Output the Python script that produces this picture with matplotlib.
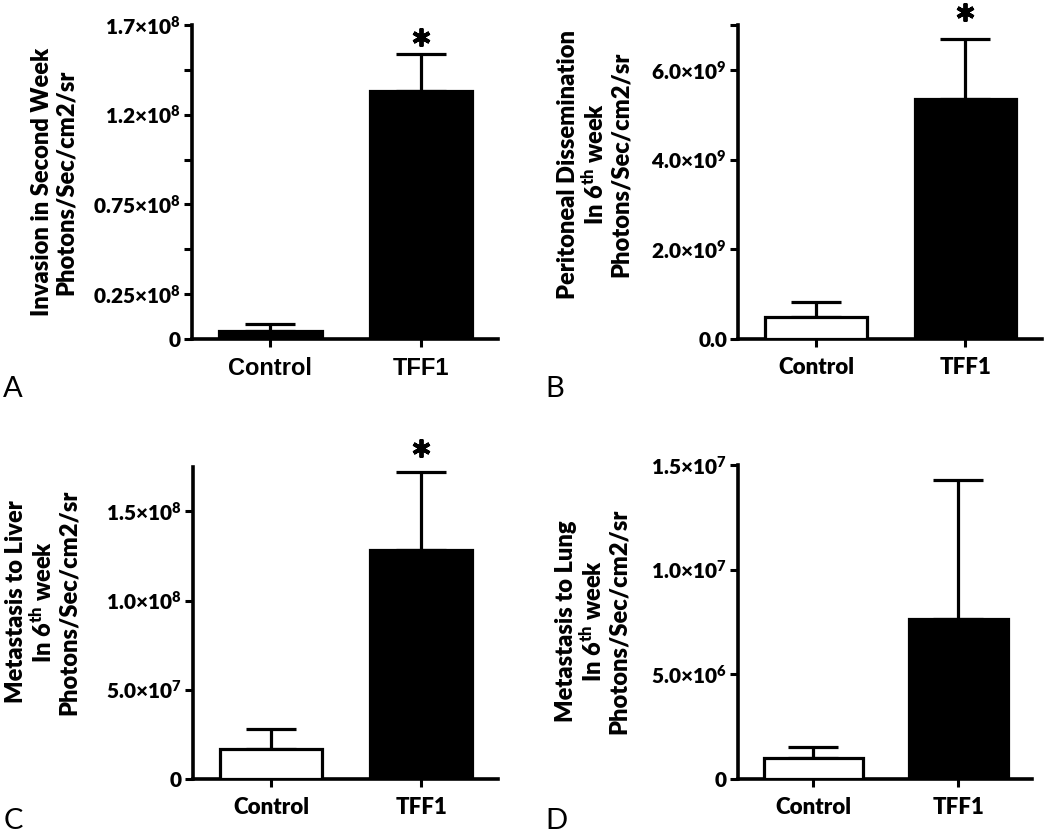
import matplotlib
matplotlib.use('Agg')
import matplotlib.pyplot as plt
from matplotlib.transforms import offset_copy

plt.rcParams['font.family'] = ['Lato', 'DejaVu Sans']
plt.rcParams['font.weight'] = 'heavy'
plt.rcParams['mathtext.default'] = 'regular'

groups = ['Control', 'TFF1']

# panel A: invasion in second week
invasion_mean = [4.5e6, 1.384e8]
invasion_sem = [3.9e6, 2.04e7]
# panel B: peritoneal dissemination, 6th week
peritoneal_mean = [0.49e9, 5.36e9]
peritoneal_sem = [0.34e9, 1.34e9]
# panel C: liver metastasis, 6th week
liver_mean = [1.68e7, 1.282e8]
liver_sem = [1.12e7, 4.38e7]
# panel D: lung metastasis, 6th week
lung_mean = [1.0e6, 7.64e6]
lung_sem = [0.54e6, 6.64e6]

unit = 'Photons/Sec/cm2/sr'
ylabels = ['Invasion in Second Week\n' + unit,
           'Peritoneal Dissemination\nIn 6$^{th}$ week\n' + unit,
           'Metastasis to Liver\nIn 6$^{th}$ week\n' + unit,
           'Metastasis to Lung\nIn 6$^{th}$ week\n' + unit]

yticks = [[0, 0.25e8, 0.5e8, 0.75e8, 1.0e8, 1.25e8, 1.5e8, 1.75e8],
          [0, 2e9, 4e9, 6e9, 7e9],
          [0, 5e7, 1e8, 1.5e8],
          [0, 5e6, 1e7, 1.5e7]]
ytick_labels = [['0', '0.25×10$^{8}$', '', '0.75×10$^{8}$', '', '1.2×10$^{8}$', '', '1.7×10$^{8}$'],
                ['0.0', '2.0×10$^{9}$', '4.0×10$^{9}$', '6.0×10$^{9}$', ''],
                ['0', '5.0×10$^{7}$', '1.0×10$^{8}$', '1.5×10$^{8}$'],
                ['0', '5.0×10$^{6}$', '1.0×10$^{7}$', '1.5×10$^{7}$']]
ylims = [1.75e8, 7e9, 1.75e8, 1.5e7]
significant = [True, True, True, False]
control_colors = ['black', 'white', 'white', 'white']
letters = ['A', 'B', 'C', 'D']

means = [invasion_mean, peritoneal_mean, liver_mean, lung_mean]
sems = [invasion_sem, peritoneal_sem, liver_sem, lung_sem]

# axes rectangles (left, bottom, width, height) in figure fraction
rects = [[0.183, 0.594, 0.291, 0.376],
         [0.703, 0.594, 0.289, 0.376],
         [0.184, 0.067, 0.290, 0.374],
         [0.703, 0.067, 0.280, 0.376]]
label_x = [-0.376, -0.349, -0.372, -0.367]
label_y = [0.5, 0.557, 0.567, 0.503]
letter_pos = [(0.003, 0.525), (0.519, 0.525), (0.003, 0.007), (0.519, 0.007)]
star_offset = [17, 27, 24, 0]  # pixels above the error bar cap

fig = plt.figure(figsize=(10.5, 8.35), dpi=100)

for i in range(4):
    ax = fig.add_axes(rects[i])
    x = range(len(groups))
    ax.bar(x, means[i], width=0.68, color=[control_colors[i], 'black'],
           edgecolor='black', linewidth=2.3, zorder=3)
    ax.errorbar(x, means[i], yerr=[[0, 0], sems[i]], fmt='none',
                ecolor='black', elinewidth=2.3, capsize=18, capthick=2.3,
                zorder=2)
    if significant[i]:
        star_tr = offset_copy(ax.transData, fig=fig, x=0, y=star_offset[i],
                              units='dots')
        ax.plot([1], [means[i][1] + sems[i][1]], marker=(6, 2, 0),
                markersize=13, markeredgewidth=2.8, color='black',
                transform=star_tr, clip_on=False)
    ax.set_xlim(-0.52, 1.51)
    ax.set_ylim(0, ylims[i])
    ax.set_xticks(list(x))
    if i == 0:
        ax.set_xticklabels(groups, family='Liberation Sans', fontsize=17,
                           fontweight='bold')
    else:
        ax.set_xticklabels(groups, fontsize=16, fontweight='heavy')
    ax.set_yticks(yticks[i])
    ax.set_yticklabels(ytick_labels[i], fontsize=15, fontweight='heavy')
    for side in ['top', 'right']:
        ax.spines[side].set_visible(False)
    for side in ['left', 'bottom']:
        ax.spines[side].set_linewidth(2.6)
    ax.tick_params(width=2.2, length=6, pad=2)
    ax.tick_params(axis='x', pad=7)
    ax.set_ylabel(ylabels[i], fontsize=17, fontweight='heavy', linespacing=1.12)
    ax.yaxis.set_label_coords(label_x[i], label_y[i])
    fig.text(letter_pos[i][0], letter_pos[i][1], letters[i], fontsize=21,
             fontweight='normal', ha='left', va='baseline')

fig.savefig('out.png', dpi=100)
